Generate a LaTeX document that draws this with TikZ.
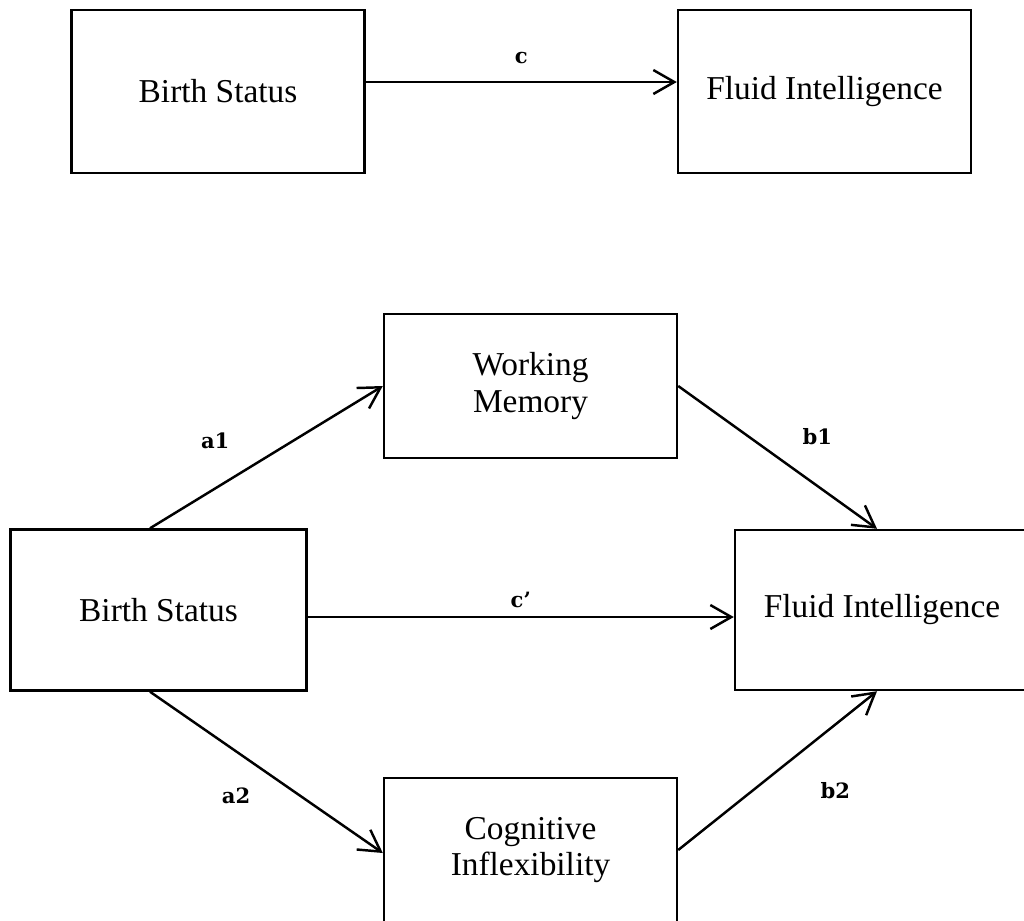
\documentclass[tikz,border=0pt]{standalone}
\usepackage{fontspec}
\setmainfont{Liberation Serif}
\newfontfamily\labfont{DejaVu Serif}
\usetikzlibrary{arrows.meta}

\begin{document}
\begin{tikzpicture}[x=0.02cm, y=-0.02cm,
    box/.style={draw, line width=1.4pt, minimum width=5.86cm, align=center, inner sep=0pt,
      font=\fontsize{19}{21}\selectfont},
    arr/.style={-{Straight Barb[length=0.42cm, width=0.48cm, line width=1.4pt]}, line width=1.4pt},
    lab/.style={font=\labfont\bfseries\fontsize{12}{14}\selectfont, inner sep=0pt},
]
  \useasboundingbox (0, 0) rectangle (1024, 920);
  \clip (0, 0) rectangle (1024, 920);

  % === Total effect ===
  \node[box, minimum height=3.26cm] (bsTop) at (218, 91.5) {Birth Status};
  \node[box, minimum height=3.26cm] (fiTop) at (824.5, 91.5) {Fluid Intelligence};

  % === Mediation model ===
  \node[box, minimum width=5.92cm, minimum height=3.22cm] (bs) at (158.5, 610) {Birth Status};
  \node[box, minimum width=5.88cm, minimum height=3.2cm] (fi) at (882, 610) {Fluid Intelligence};
  \node[box, minimum height=2.88cm] (wm) at (530.5, 386) {Working\\Memory};
  \node[box, minimum height=2.88cm] (ci) at (530.5, 850) {Cognitive\\Inflexibility};

  % === Arrows ===
  \draw[arr] ([yshift=0.19cm]bsTop.east) -- ([yshift=0.19cm]fiTop.west)
    node[lab, pos=0.5, yshift=0.48cm] {c};
  \draw[arr] ([xshift=-0.17cm]bs.north) -- (wm.west)
    node[lab, pos=0.28, yshift=0.96cm] {a1};
  \draw[arr] (wm.east) -- ([xshift=-0.1cm]fi.north)
    node[lab, pos=0.7, yshift=0.98cm] {b1};
  \draw[arr] ([yshift=-0.14cm]bs.east) -- ([yshift=-0.14cm]fi.west)
    node[lab, pos=0.5, yshift=0.34cm] {c’};
  \draw[arr] ([xshift=-0.17cm]bs.south) -- ([yshift=-0.06cm]ci.west)
    node[lab, pos=0.37, yshift=-0.88cm] {a2};
  \draw[arr] (ci.east) -- ([xshift=-0.1cm]fi.south)
    node[lab, pos=0.79, yshift=-1.33cm] {b2};
\end{tikzpicture}
\end{document}
